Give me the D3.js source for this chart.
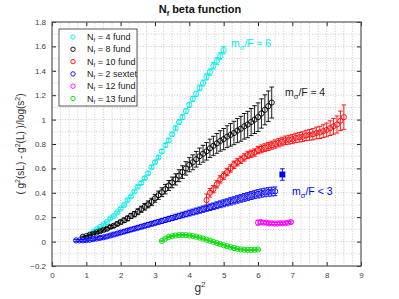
<!DOCTYPE html>
<html>
<head>
<meta charset="utf-8">
<script src="https://cdn.jsdelivr.net/npm/d3@7"></script>
<style>
  body { margin: 0; background: #fff; }
  text { font-family: "Liberation Sans", Arial, sans-serif; }
</style>
</head>
<body>
<svg id="chart" width="399" height="299"></svg>
<script>
/*
    Data: g^2 values, beta function values and error bars
    for every flavour setup
*/
const nf4G = [1.1,1.2,1.3,1.4,1.5,1.6,1.7,1.8,1.9,2.0,2.1,2.2,2.3,2.4,2.5,2.6,2.7,2.8,2.9,3.0,
    3.1,3.2,3.3,3.4,3.5,3.6,3.7,3.8,3.9,4.0,4.1,4.2,4.3,4.4,4.5,4.6,4.7,4.8,4.9,5.0];
const nf4V = [0.06,0.08,0.10,0.12,0.14,0.16,0.19,0.21,0.24,0.27,0.30,0.34,0.37,0.41,0.45,0.48,0.52,0.56,0.61,0.65,
    0.69,0.74,0.79,0.83,0.88,0.93,0.98,1.02,1.07,1.12,1.17,1.21,1.26,1.30,1.35,1.39,1.44,1.48,1.52,1.57];
const nf4E = [0.005,0.005,0.005,0.006,0.006,0.007,0.007,0.008,0.008,0.009,0.009,0.010,0.010,0.011,0.011,0.012,0.012,0.013,0.013,0.014,
    0.014,0.015,0.015,0.016,0.016,0.017,0.018,0.018,0.019,0.020,0.021,0.022,0.023,0.024,0.025,0.026,0.027,0.028,0.029,0.030];

const nf8G = [0.9,1.0,1.1,1.2,1.3,1.4,1.5,1.6,1.7,1.8,1.9,2.0,2.1,2.2,2.3,2.4,2.5,2.6,2.7,2.8,
    2.9,3.0,3.1,3.2,3.3,3.4,3.5,3.6,3.7,3.8,3.9,4.0,4.1,4.2,4.3,4.4,4.5,4.6,4.7,4.8,
    4.9,5.0,5.1,5.2,5.3,5.4,5.5,5.6,5.7,5.8,5.9,6.0,6.1,6.2,6.3,6.4];
const nf8V = [0.04,0.045,0.055,0.065,0.075,0.085,0.095,0.105,0.12,0.13,0.145,0.16,0.175,0.19,0.21,0.225,0.245,0.265,0.285,0.305,
    0.325,0.355,0.38,0.405,0.43,0.46,0.485,0.51,0.54,0.57,0.60,0.63,0.65,0.675,0.70,0.72,0.74,0.765,0.785,0.805,
    0.825,0.84,0.86,0.875,0.89,0.91,0.925,0.945,0.96,0.98,1.0,1.02,1.05,1.08,1.11,1.14];
const nf8E = [0.004,0.005,0.006,0.007,0.008,0.009,0.010,0.011,0.012,0.014,0.015,0.016,0.018,0.019,0.021,0.022,0.024,0.025,0.027,0.028,
    0.030,0.032,0.034,0.036,0.039,0.041,0.044,0.046,0.049,0.052,0.055,0.058,0.061,0.064,0.067,0.069,0.072,0.075,0.078,0.081,
    0.084,0.087,0.090,0.093,0.096,0.099,0.102,0.105,0.108,0.111,0.114,0.117,0.120,0.123,0.125,0.127];

const nf10G = [4.5,4.6,4.7,4.8,4.9,5.0,5.1,5.2,5.3,5.4,5.5,5.6,5.7,5.8,5.9,6.0,6.1,6.2,6.3,6.4,
    6.5,6.6,6.7,6.8,6.9,7.0,7.1,7.2,7.3,7.4,7.5,7.6,7.7,7.8,7.9,8.0,8.1,8.2,8.3,8.4,8.5];
const nf10V = [0.34,0.40,0.43,0.47,0.51,0.54,0.57,0.60,0.63,0.65,0.67,0.69,0.71,0.72,0.73,0.75,0.76,0.77,0.78,0.79,
    0.80,0.81,0.82,0.83,0.835,0.84,0.85,0.855,0.86,0.87,0.875,0.88,0.89,0.895,0.905,0.915,0.93,0.945,0.96,0.99,1.02];
const nf10E = [0.05,0.035,0.03,0.03,0.03,0.03,0.03,0.03,0.03,0.03,0.03,0.03,0.03,0.03,0.03,0.03,0.032,0.032,0.033,0.033,
    0.034,0.034,0.035,0.035,0.036,0.037,0.038,0.039,0.04,0.042,0.044,0.046,0.048,0.05,0.053,0.056,0.06,0.065,0.07,0.08,0.10];

const sextetG = [0.7,0.8,0.9,1.0,1.1,1.2,1.3,1.4,1.5,1.6,1.7,1.8,1.9,2.0,2.1,2.2,2.3,2.4,2.5,2.6,
    2.7,2.8,2.9,3.0,3.1,3.2,3.3,3.4,3.5,3.6,3.7,3.8,3.9,4.0,4.1,4.2,4.3,4.4,4.5,4.6,
    4.7,4.8,4.9,5.0,5.1,5.2,5.3,5.4,5.5,5.6,5.7,5.8,5.9,6.0,6.1,6.2,6.3,6.4,6.5];
const sextetV = [0.01,0.01,0.01,0.012,0.015,0.02,0.025,0.03,0.035,0.042,0.05,0.058,0.066,0.074,0.082,0.09,0.098,0.106,0.114,0.122,
    0.13,0.138,0.146,0.154,0.162,0.17,0.178,0.186,0.194,0.202,0.21,0.218,0.226,0.234,0.242,0.25,0.258,0.266,0.274,0.282,
    0.29,0.298,0.306,0.314,0.322,0.33,0.338,0.346,0.354,0.362,0.37,0.378,0.385,0.392,0.398,0.403,0.407,0.41,0.412];
const sextetE = [0.008,0.008,0.008,0.009,0.009,0.010,0.010,0.011,0.011,0.012,0.012,0.013,0.013,0.014,0.014,0.015,0.015,0.016,0.016,0.017,
    0.017,0.018,0.018,0.019,0.019,0.020,0.020,0.021,0.021,0.022,0.022,0.023,0.023,0.024,0.024,0.025,0.025,0.026,0.026,0.027,
    0.027,0.028,0.028,0.029,0.029,0.030,0.030,0.031,0.031,0.032,0.032,0.033,0.033,0.034,0.034,0.035,0.035,0.036,0.036];

const nf12G = [6.0,6.08,6.16,6.24,6.32,6.4,6.48,6.56,6.64,6.72,6.8,6.88,6.96];
const nf12V = [0.155,0.16,0.155,0.155,0.15,0.15,0.148,0.148,0.15,0.15,0.152,0.155,0.16];
const nf12E = [0.02,0.015,0.012,0.01,0.01,0.01,0.01,0.01,0.01,0.01,0.01,0.01,0.01];

const nf13G = [3.2,3.3,3.4,3.5,3.6,3.7,3.8,3.9,4.0,4.1,4.2,4.3,4.4,4.5,4.6,4.7,4.8,4.9,5.0,5.1,
    5.2,5.3,5.4,5.5,5.6,5.7,5.8,5.9,6.0];
const nf13V = [0.005,0.025,0.038,0.045,0.05,0.053,0.054,0.053,0.05,0.046,0.04,0.033,0.025,0.016,0.007,-0.002,-0.012,-0.021,-0.03,-0.038,
    -0.046,-0.053,-0.059,-0.064,-0.067,-0.068,-0.068,-0.067,-0.065];
const nf13E = [0.005,0.005,0.005,0.005,0.005,0.005,0.005,0.005,0.005,0.005,0.005,0.005,0.005,0.005,0.005,0.005,0.005,0.005,0.005,0.005,
    0.005,0.005,0.005,0.005,0.005,0.005,0.005,0.005,0.005];

// single filled point near the sextet curve
const sextetExtraG = [6.71];
const sextetExtraV = [0.55];
const sextetExtraE = [0.047];

const legendLabels = ["4 fund", "8 fund", "10 fund", "2 sextet", "12 fund", "13 fund"];
const seriesColors = ["#00ecec", "#000000", "#ff0000", "#0000ff", "#ff00ff", "#00dd00"];
const xTicks = [0, 1, 2, 3, 4, 5, 6, 7, 8, 9];
const yTicks = [-0.2, 0, 0.2, 0.4, 0.6, 0.8, 1, 1.2, 1.4, 1.6, 1.8];

const series = [
    [nf4G, nf4V, nf4E],
    [nf8G, nf8V, nf8E],
    [nf10G, nf10V, nf10E],
    [sextetG, sextetV, sextetE],
    [nf12G, nf12V, nf12E],
    [nf13G, nf13V, nf13E]
].map(([g, v, e], i) => ({
    color: seriesColors[i],
    points: g.map((gi, j) => ({ g: gi, v: v[j], e: e[j] }))
}));

const svg = d3.select("#chart");
const margin = { left: 52, right: 38, top: 22, bottom: 33 };
const W = 399, H = 299;

const x = d3.scaleLinear().domain([0, 9]).range([margin.left, W - margin.right]);
const y = d3.scaleLinear().domain([-0.2, 1.8]).range([H - margin.bottom, margin.top]);

// Dotted grid, major and minor
const grid = svg.append("g").attr("stroke", "#b4b4b4").attr("stroke-width", 0.7)
    .attr("stroke-dasharray", "1,1.6");
d3.range(0.25, 9, 0.25).forEach(gv => {
    grid.append("line").attr("x1", x(gv)).attr("x2", x(gv))
        .attr("y1", y(-0.2)).attr("y2", y(1.8));
});
d3.range(-0.1, 1.8, 0.1).forEach(vv => {
    grid.append("line").attr("x1", x(0)).attr("x2", x(9))
        .attr("y1", y(vv)).attr("y2", y(vv));
});

// Error bars and markers for each series
function drawSeries(points, color, filled) {
    const g = svg.append("g").attr("stroke", color).attr("stroke-width", 0.9).attr("fill", "none");
    points.forEach(p => {
        const px = x(p.g), top = y(p.v + p.e), bot = y(p.v - p.e);
        g.append("line").attr("x1", px).attr("x2", px).attr("y1", top).attr("y2", bot);
        g.append("line").attr("x1", px - 2.3).attr("x2", px + 2.3).attr("y1", top).attr("y2", top);
        g.append("line").attr("x1", px - 2.3).attr("x2", px + 2.3).attr("y1", bot).attr("y2", bot);
    });
    if (filled) {
        g.selectAll("rect").data(points).join("rect")
            .attr("x", d => x(d.g) - 2.5).attr("y", d => y(d.v) - 2.5)
            .attr("width", 5).attr("height", 5).attr("fill", color);
    } else {
        g.selectAll("circle").data(points).join("circle")
            .attr("cx", d => x(d.g)).attr("cy", d => y(d.v)).attr("r", 2.6);
    }
}
series.forEach(s => drawSeries(s.points, s.color, false));
drawSeries(sextetExtraG.map((gi, j) => ({ g: gi, v: sextetExtraV[j], e: sextetExtraE[j] })),
    "#0000ff", true);

// Axes with inward ticks, mirrored on top and right
const axisColor = "#262626";
function styleAxis(sel) {
    sel.select(".domain").remove();
    sel.selectAll("line").attr("stroke", axisColor);
    sel.selectAll("text").attr("fill", "#404040").attr("font-size", 8);
}
svg.append("g").attr("transform", `translate(0,${y(-0.2)})`)
    .call(d3.axisBottom(x).tickValues(xTicks).tickFormat(d3.format("d")).tickSizeInner(-4).tickPadding(6))
    .call(styleAxis);
svg.append("g").attr("transform", `translate(0,${y(1.8)})`)
    .call(d3.axisTop(x).tickValues(xTicks).tickFormat("").tickSizeInner(-4))
    .call(styleAxis);
svg.append("g").attr("transform", `translate(${x(0)},0)`)
    .call(d3.axisLeft(y).tickValues(yTicks).tickFormat(d => d3.format("~g")(d)).tickSizeInner(-4).tickPadding(6))
    .call(styleAxis);
svg.append("g").attr("transform", `translate(${x(9)},0)`)
    .call(d3.axisRight(y).tickValues(yTicks).tickFormat("").tickSizeInner(-4))
    .call(styleAxis);

svg.append("rect").attr("x", x(0)).attr("y", y(1.8))
    .attr("width", x(9) - x(0)).attr("height", y(-0.2) - y(1.8))
    .attr("fill", "none").attr("stroke", "#555").attr("stroke-width", 1.2);

// Title and axis labels
const title = svg.append("text").attr("x", 200).attr("y", 13).attr("text-anchor", "middle")
    .attr("font-size", 11).attr("font-weight", "bold").attr("fill", "#111");
title.append("tspan").text("N");
title.append("tspan").attr("font-size", 7).attr("dy", 3).text("f");
title.append("tspan").attr("dy", -3).text(" beta function");

const xl = svg.append("text").attr("x", 200).attr("y", 292).attr("text-anchor", "middle")
    .attr("font-size", 12).attr("fill", "#333");
xl.append("tspan").text("g");
xl.append("tspan").attr("font-size", 8).attr("dy", -5).text("2");

const yl = svg.append("text").attr("transform", "translate(24,144) rotate(-90)")
    .attr("text-anchor", "middle").attr("font-size", 10).attr("fill", "#333");
yl.append("tspan").text("( g");
yl.append("tspan").attr("font-size", 7).attr("dy", -4).text("2");
yl.append("tspan").attr("dy", 4).text("(sL) - g");
yl.append("tspan").attr("font-size", 7).attr("dy", -4).text("2");
yl.append("tspan").attr("dy", 4).text("(L) )/log(s");
yl.append("tspan").attr("font-size", 7).attr("dy", -4).text("2");
yl.append("tspan").attr("dy", 4).text(")");

// Annotations
function mLabel(px, py, color, tail) {
    const t = svg.append("text").attr("x", px).attr("y", py).attr("font-size", 10.5).attr("fill", color);
    t.append("tspan").text("m");
    t.append("tspan").attr("font-size", 7.5).attr("dy", 3).text("σ");
    t.append("tspan").attr("dy", -3).text("/F " + tail);
}
mLabel(231, 47, "#00ecec", "≈ 6");
mLabel(285, 96, "#222", "≈ 4");
mLabel(292, 195, "#0000ff", "< 3");

// Legend
const legend = svg.append("g");
legend.append("rect").attr("x", 59).attr("y", 29).attr("width", 78).attr("height", 77)
    .attr("fill", "#fff").attr("stroke", "#333").attr("stroke-width", 0.8);
legendLabels.forEach((lab, i) => {
    const ly = 37 + i * 12.3;
    legend.append("circle").attr("cx", 73).attr("cy", ly).attr("r", 2.2)
        .attr("fill", "none").attr("stroke", seriesColors[i]).attr("stroke-width", 0.9);
    const t = legend.append("text").attr("x", 87).attr("y", ly + 3).attr("font-size", 9).attr("fill", "#222");
    t.append("tspan").text("N");
    t.append("tspan").attr("font-size", 6).attr("dy", 2).text("f");
    t.append("tspan").attr("dy", -2).text(" = " + lab);
});
</script>
</body>
</html>
